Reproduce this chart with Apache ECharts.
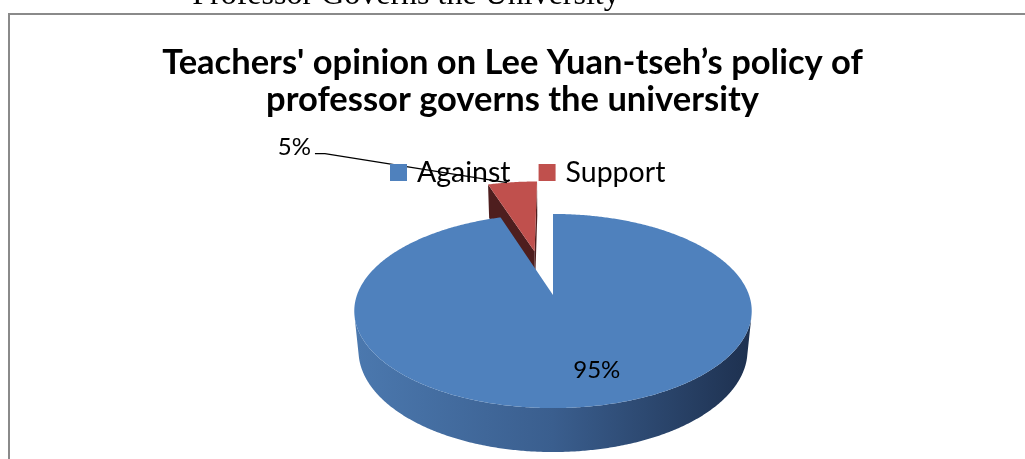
<!DOCTYPE html>
<html>
<head>
<meta charset="utf-8">
<title>Teachers' opinion on Lee Yuan-tseh’s policy</title>
<script src="https://cdn.jsdelivr.net/npm/echarts@6/dist/echarts.min.js"></script>
<style>
  html, body { margin: 0; padding: 0; background: #ffffff; }
  #chart { width: 1025px; height: 459px; }
</style>
</head>
<body>
<div id="chart"></div>
<script>
// ---- data ----
const categories = ['Against', 'Support'];
const shares = [95, 5];                 // percent of teachers
const shareLabels = ['95%', '5%'];
const explodedCategories = ['Support'];

// ---- styling ----
const UI_FONT = 'Lato, "Open Sans", "DejaVu Sans", sans-serif';
const sliceStyle = {
  Against: { top: '#4F81BD', face: '#24395a', wall: ['#4b78ae', '#3a5e8e', '#1e3150'] },
  Support: { top: '#C0504D', face: '#4e1e1e', wall: ['#a04341', '#7a3130', '#4e1e1e'] }
};

// ---- 3D pie view (perspective projection of a flat cylinder) ----
const VIEW = {
  cx: 553, cy: 295,        // screen position of the pie centre
  scale: 196,              // pixels per unit radius at the centre plane
  tilt: 28.8 * Math.PI / 180,
  dist: 5.31,              // camera distance in radius units
  depth: 0.233,            // pie thickness in radius units
  explode: 0.51,           // pull-out distance for exploded slices
  explodeTurn: -2.5,       // pull-out direction relative to the slice bisector, degrees
  step: 0.5                // arc sampling, degrees
};
const cosT = Math.cos(VIEW.tilt), sinT = Math.sin(VIEW.tilt);
const total = shares.reduce((s, v) => s + v, 0);

function project(p) {
  const yc = p[1] * cosT - p[2] * sinT;
  const zc = VIEW.dist - (p[2] * cosT + p[1] * sinT);
  const f = VIEW.dist / zc;
  return [VIEW.cx + VIEW.scale * p[0] * f, VIEW.cy - VIEW.scale * yc * f];
}
// angle in degrees, clockwise from the far side (12 o'clock)
function rimPoint(deg, r, y, off) {
  const a = deg * Math.PI / 180;
  return [off[0] + r * Math.sin(a), y, off[1] - r * Math.cos(a)];
}
function arcPoints(a0, a1, y, off) {
  const n = Math.max(2, Math.ceil(Math.abs(a1 - a0) / VIEW.step));
  const pts = [];
  for (let k = 0; k <= n; k++) pts.push(project(rimPoint(a0 + (a1 - a0) * k / n, 1, y, off)));
  return pts;
}
// outer wall faces the camera where this is positive
function wallFacing(deg, off) {
  const a = deg * Math.PI / 180;
  return -1 - off[0] * Math.sin(a) + (off[1] - VIEW.dist * cosT) * Math.cos(a);
}
function visibleWallRange(a0, a1, off) {
  let lo = null, hi = null;
  const n = Math.max(2, Math.ceil((a1 - a0) / 0.1));
  for (let k = 0; k <= n; k++) {
    const a = a0 + (a1 - a0) * k / n;
    if (wallFacing(a, off) > 0) { if (lo === null) lo = a; hi = a; }
  }
  return lo === null ? null : [lo, hi];
}
// radial cut faces: sign -1 = start edge, +1 = end edge
function cutFacing(deg, sign, off) {
  const a = deg * Math.PI / 180;
  const nx = sign * Math.cos(a), nz = sign * Math.sin(a);
  return nx * (0 - off[0]) + nz * (VIEW.dist * cosT - off[1]) > 0;
}
function startAngleOf(idx) {
  let s = 0;
  for (let k = 0; k < idx; k++) s += shares[k];
  return s / total * 360;
}

function makeRenderer(idx) {
  const name = categories[idx];
  const st = sliceStyle[name];
  return function (params, api) {
    const value = api.value(0);
    const a0 = startAngleOf(idx);
    const a1 = a0 + value / total * 360;
    const mid = (a0 + a1) / 2;
    const exploded = explodedCategories.indexOf(name) >= 0;
    const dir = (mid + VIEW.explodeTurn) * Math.PI / 180;
    const off = exploded
      ? [VIEW.explode * Math.sin(dir), -VIEW.explode * Math.cos(dir)]
      : [0, 0];
    const h = -VIEW.depth;
    const children = [];

    // outer wall
    const range = visibleWallRange(a0, a1, off);
    if (range) {
      const topArc = arcPoints(range[0], range[1], 0, off);
      const botArc = arcPoints(range[0], range[1], h, off).reverse();
      children.push({
        type: 'polygon',
        shape: { points: topArc.concat(botArc) },
        style: {
          fill: {
            type: 'linear', global: true,
            x: VIEW.cx - VIEW.scale, y: 0, x2: VIEW.cx + VIEW.scale, y2: 0,
            colorStops: [
              { offset: 0, color: st.wall[0] },
              { offset: 0.5, color: st.wall[1] },
              { offset: 1, color: st.wall[2] }
            ]
          }
        }
      });
    }

    // radial cut faces
    [[a0, -1], [a1, 1]].forEach(function (e) {
      if (value / total < 1 && cutFacing(e[0], e[1], off)) {
        children.push({
          type: 'polygon',
          shape: {
            points: [
              project([off[0], 0, off[1]]),
              project(rimPoint(e[0], 1, 0, off)),
              project(rimPoint(e[0], 1, h, off)),
              project([off[0], h, off[1]])
            ]
          },
          style: { fill: st.face }
        });
      }
    });

    // top face
    children.push({
      type: 'polygon',
      shape: { points: [project([off[0], 0, off[1]])].concat(arcPoints(a0, a1, 0, off)) },
      style: { fill: st.top }
    });

    // data label
    const labelFont = '24px ' + UI_FONT;
    if (exploded) {
      const anchor = project(rimPoint(mid - 2, 1, 0, off));
      const elbow = [anchor[0] - 182, anchor[1] - 29];
      const end = [elbow[0] - 10, elbow[1]];
      children.push({
        type: 'polyline',
        shape: { points: [anchor, elbow, end] },
        style: { stroke: '#000000', lineWidth: 1.3, fill: null }
      });
      children.push({
        type: 'text',
        style: {
          x: end[0] - 4, y: end[1] + 6, text: shareLabels[idx], font: labelFont,
          fill: '#000000', align: 'right', verticalAlign: 'bottom'
        }
      });
    } else {
      const c = project(rimPoint(mid, 0.74, 0, off));
      children.push({
        type: 'text',
        style: {
          x: c[0] + 18, y: c[1] - 3, text: shareLabels[idx], font: labelFont,
          fill: '#000000', align: 'center', verticalAlign: 'middle'
        }
      });
    }
    return { type: 'group', children: children };
  };
}

// exploded slices sit behind, so they are drawn first
const drawOrder = categories
  .map((c, i) => i)
  .sort((i, j) => (explodedCategories.indexOf(categories[j]) >= 0) - (explodedCategories.indexOf(categories[i]) >= 0));

const series = drawOrder.map(function (i, k) {
  return {
    type: 'custom',
    name: categories[i],
    coordinateSystem: 'none',
    silent: true,
    z: 2 + k,
    itemStyle: { color: sliceStyle[categories[i]].top },
    renderItem: makeRenderer(i),
    data: [{ name: categories[i], value: shares[i] }]
  };
});

const chart = echarts.init(document.getElementById('chart'), null, { renderer: 'canvas' });
chart.setOption({
  backgroundColor: '#ffffff',
  animation: false,
  title: {
    text: 'Teachers\' opinion on Lee Yuan-tseh’s policy of\nprofessor governs the university',
    left: 'center',
    top: 44,
    padding: 0,
    textStyle: {
      fontFamily: UI_FONT, fontWeight: 'bold', fontSize: 34.5, lineHeight: 37, color: '#000000'
    }
  },
  legend: {
    data: categories,
    left: 390,
    top: 158,
    padding: 0,
    icon: 'rect',
    itemWidth: 17,
    itemHeight: 17,
    itemGap: 28,
    selectedMode: false,
    textStyle: { fontFamily: UI_FONT, fontSize: 28.5, color: '#000000', padding: [0, 0, 0, 5] }
  },
  graphic: [
    {
      type: 'rect',
      silent: true,
      shape: { x: 9, y: 14, width: 1100, height: 500 },
      style: { fill: null, stroke: '#8a8a8a', lineWidth: 2 },
      z: 1
    },
    {
      type: 'text',
      silent: true,
      style: {
        x: 406, y: 12, text: 'Professor Governs the University',
        font: '32px "Liberation Serif", "Times New Roman", serif',
        fill: '#000000', align: 'center', verticalAlign: 'bottom'
      },
      z: 1
    }
  ],
  series: series
});
</script>
</body>
</html>
